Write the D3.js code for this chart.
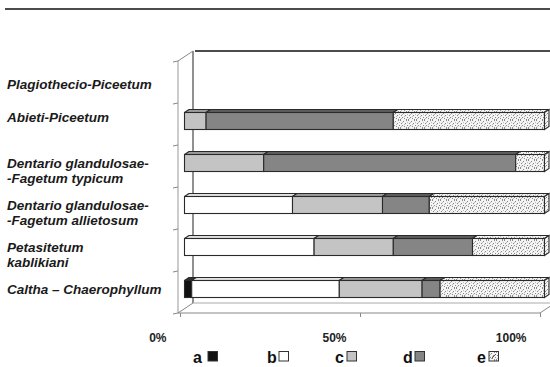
<!DOCTYPE html>
<html><head><meta charset="utf-8">
<script src="https://cdn.jsdelivr.net/npm/d3@7"></script>
<style>body{margin:0;background:#fff}svg{display:block}</style>
</head><body>
<svg id="c" width="550" height="367"></svg>
<script>
const categories = ["Plagiothecio-Piceetum","Abieti-Piceetum","Dentario typicum","Dentario allietosum","Petasitetum","Caltha"];
const labelLines = [["Plagiothecio-Piceetum"],["Abieti-Piceetum"],["Dentario glandulosae-","-Fagetum typicum"],["Dentario glandulosae-","-Fagetum allietosum"],["Petasitetum","kablikiani"],["Caltha – Chaerophyllum"]];
const labelShift = [5.5, -3.5, 0, 0, 0, 0];
const seriesKeys = ["a","b","c","d","e"];
const valA = [0, 0, 0, 0, 0, 2];
const valB = [0, 0, 0, 30, 36, 41];
const valC = [0, 6, 22, 25, 22, 23];
const valD = [0, 52, 70, 13, 22, 5];
const valE = [0, 42, 8, 32, 20, 29];
const xTicks = [0, 50, 100];
const xTickLabels = ["0%","50%","100%"];

const svg = d3.select("#c");
const defs = svg.append("defs");
const pat = defs.append("pattern").attr("id","dots").attr("patternUnits","userSpaceOnUse").attr("width",8).attr("height",8);
pat.append("rect").attr("width",8).attr("height",8).attr("fill","#f4f4f4");
[[0,0],[3,1],[6,0],[1,3],[5,3],[2,5],[7,5],[4,6],[0,7],[6,7]].forEach(p=>pat.append("rect").attr("x",p[0]).attr("y",p[1]).attr("width",1).attr("height",1).attr("fill","#8a8a8a"));
[[2,2],[7,2],[4,4],[1,6]].forEach(p=>pat.append("rect").attr("x",p[0]).attr("y",p[1]).attr("width",1).attr("height",1).attr("fill","#b8b8b8"));

const DX = 15, DY = -10;
const proj = (x, y, d) => [x + d*DX, y + d*DY];

const x = d3.scaleLinear().domain([0,100]).range([180,540]);
const y = d3.scaleBand().domain(categories).range([61,313]).paddingInner(0.595).paddingOuter(0.2976);
const step = y.step();

svg.append("line").attr("x1",5).attr("x2",550).attr("y1",9).attr("y2",9).attr("stroke","#111").attr("stroke-width",1.5);

const y0 = 61, y1 = 313;
svg.append("line").attr("x1",proj(180,y0,1)[0]).attr("y1",proj(180,y0,1)[1]).attr("x2",550).attr("y2",proj(180,y0,1)[1]).attr("stroke","#111").attr("stroke-width",1.5);
svg.append("line").attr("x1",proj(178,y0,1)[0]).attr("y1",proj(178,y0,1)[1]).attr("x2",proj(178,y1,1)[0]).attr("y2",proj(178,y1,1)[1]).attr("stroke","#555").attr("stroke-width",1.3);
svg.append("line").attr("x1",178).attr("y1",y0).attr("x2",178).attr("y2",y1).attr("stroke","#999").attr("stroke-width",1);
svg.append("line").attr("x1",178).attr("y1",y0).attr("x2",proj(178,y0,1)[0]).attr("y2",proj(178,y0,1)[1]).attr("stroke","#888");
const bounds = categories.map(c => y(c) - y.paddingInner()*step/2).concat([y1]);
bounds.forEach(b => {
  svg.append("line").attr("x1",173).attr("x2",178).attr("y1",b+1).attr("y2",b).attr("stroke","#888");
});
svg.append("line").attr("x1",178).attr("y1",y1).attr("x2",x(100)).attr("y2",y1).attr("stroke","#888");
svg.append("line").attr("x1",178).attr("y1",y1).attr("x2",proj(178,y1,1)[0]).attr("y2",proj(178,y1,1)[1]).attr("stroke","#888");
svg.append("line").attr("x1",x(100)).attr("y1",y1).attr("x2",proj(x(100),y1,1)[0]).attr("y2",proj(x(100),y1,1)[1]).attr("stroke","#888");
svg.append("line").attr("x1",proj(178,y1,1)[0]).attr("y1",proj(178,y1,1)[1]).attr("x2",550).attr("y2",proj(178,y1,1)[1]).attr("stroke","#aaa");

const axis = d3.axisBottom(x).tickValues(xTicks).tickSize(4).tickFormat((d,i)=>xTickLabels[i]);
const ag = svg.append("g").attr("transform",`translate(0,${y1})`).call(axis);
ag.select(".domain").remove();
ag.selectAll(".tick line").attr("stroke","#888");
ag.selectAll(".tick text").attr("text-anchor","end").attr("dx",-14).attr("y",20)
  .attr("font-family","Liberation Sans, Arial, sans-serif").attr("font-weight","bold").attr("font-size","12px").attr("fill","#222");

const vals = {a:valA,b:valB,c:valC,d:valD,e:valE};
const frontFill = {a:"#111",b:"#fff",c:"#c4c4c4",d:"#858585",e:"url(#dots)"};
const topFill = {a:"#333",b:"#e2e2e2",c:"#9c9c9c",d:"#5e5e5e",e:"url(#dots)"};
const dF = 0.3, dB = 0.6;
const bh = y.bandwidth();
categories.forEach((cat, i) => {
  let acc = 0;
  const yTop = y(cat);
  const g = svg.append("g");
  let last = null;
  seriesKeys.forEach(k => {
    const v = vals[k][i];
    if (!v) return;
    const xa = x(acc), xb = x(acc+v);
    acc += v;
    const p1 = proj(xa,yTop,dF), p2 = proj(xb,yTop,dF), p3 = proj(xb,yTop,dB), p4 = proj(xa,yTop,dB);
    g.append("polygon").attr("points",[p1,p2,p3,p4].map(p=>p.join(",")).join(" "))
      .attr("fill",topFill[k]).attr("stroke","#2a2a2a").attr("stroke-width",1.1).attr("stroke-linejoin","round");
    g.append("rect").attr("x",p1[0]).attr("y",p1[1]).attr("width",xb-xa).attr("height",bh)
      .attr("fill",frontFill[k]).attr("stroke","#2a2a2a").attr("stroke-width",1.1);
    last = {k, xb};
  });
  if (last) {
    const q1 = proj(last.xb,yTop,dF), q2 = proj(last.xb,yTop,dB), q3 = proj(last.xb,yTop+bh,dB), q4 = proj(last.xb,yTop+bh,dF);
    g.append("polygon").attr("points",[q1,q2,q3,q4].map(p=>p.join(",")).join(" "))
      .attr("fill",topFill[last.k]).attr("stroke","#2a2a2a").attr("stroke-width",1.1);
  }
});

categories.forEach((cat, i) => {
  const cy = y(cat) + bh/2 + DY*dF + labelShift[i];
  const lines = labelLines[i];
  const t = svg.append("text").attr("x",7).attr("font-family","Liberation Sans, Arial, sans-serif")
    .attr("font-weight","bold").attr("font-style","italic").attr("font-size","13.5px").attr("fill","#1a1a1a");
  lines.forEach((ln, j) => {
    t.append("tspan").attr("x",7).attr("y", cy + j*15.5 + 4.8).text(ln);
  });
});

const lx = [193, 267, 335, 403, 477];
const lg = svg.append("g").attr("font-family","Liberation Sans, Arial, sans-serif").attr("font-weight","bold").attr("font-size","16px").attr("fill","#111");
seriesKeys.forEach((k, i) => {
  lg.append("text").attr("x",lx[i]).attr("y",362.5).text(k);
  const sx = lx[i] + (k==="a"?15:12);
  lg.append("rect").attr("x",sx).attr("y",351.5).attr("width",9.5).attr("height",9.5)
    .attr("fill", k==="e" ? "url(#dots)" : frontFill[k]).attr("stroke","#333").attr("stroke-width",1);
  if (k==="e") lg.append("line").attr("x1",sx+2.5).attr("y1",358.5).attr("x2",sx+7).attr("y2",354).attr("stroke","#555");
});
</script>
</body></html>
